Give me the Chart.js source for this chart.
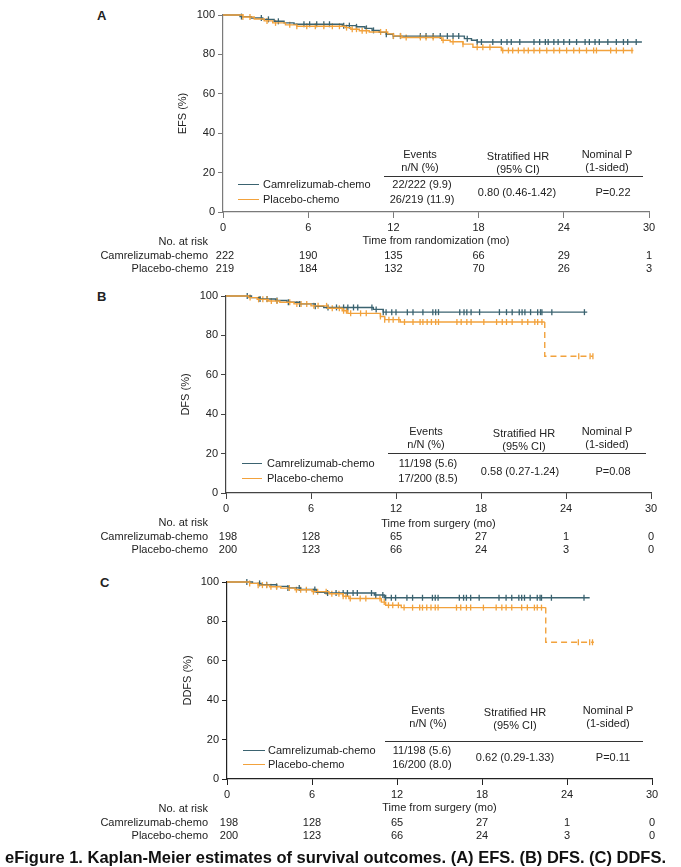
<!DOCTYPE html>
<html>
<head>
<meta charset="utf-8">
<script src="https://cdn.jsdelivr.net/npm/chart.js@4.4.0/dist/chart.umd.min.js"></script>
<style>
  body { margin: 0; background: #fff; width: 681px; height: 867px; position: relative; overflow: hidden;
         font-family: "Liberation Sans", Arial, sans-serif; color: #222; }
  .box { position: absolute; }
  .t { position: absolute; white-space: nowrap; font-size: 11px; line-height: 1; }
  .rule { position: absolute; height: 0; border-top: 1px solid #333; }
</style>
</head>
<body>
<script>
// colours and shared labels
const CAM = "#3b6370";
const PBO = "#f2a23c";
const FONT = "'Liberation Sans', Arial, sans-serif";
const timeTicks = [0, 6, 12, 18, 24, 30];
const survTicks = [0, 20, 40, 60, 80, 100];
const groupNames = ["Camrelizumab-chemo", "Placebo-chemo"];

// ---- Panel A: EFS ----
const efsCamTimes = [0, 1.2, 2.0, 2.8, 3.6, 4.3, 5.0, 8.4, 9.4, 10.0, 10.5, 11.0, 11.5, 12.0, 17.0, 17.5, 17.9, 29.5];
const efsCamSurv  = [100, 99.2, 98.5, 97.8, 96.8, 96.0, 95.3, 94.6, 94.0, 93.2, 92.2, 91.2, 90.2, 89.3, 88.0, 87.2, 86.3, 86.3];
const efsPboTimes = [0, 1.4, 2.2, 2.9, 3.5, 4.4, 5.2, 8.6, 9.0, 9.6, 10.3, 11.6, 12.0, 12.6, 15.4, 16.0, 16.9, 17.6, 19.6, 28.9];
const efsPboSurv  = [100, 99.0, 98.0, 97.0, 96.0, 95.0, 94.3, 93.6, 92.8, 92.0, 91.4, 90.4, 89.4, 88.6, 87.2, 86.4, 85.2, 83.6, 82.0, 82.0];
const efsCamCensor = [1.3, 2.7, 3.2, 3.9, 5.7, 6.1, 6.6, 7.1, 7.5, 8.5, 8.9, 9.4, 10.1, 10.6, 11.5, 12.0, 12.5,
  13.9, 14.3, 14.8, 15.3, 15.8, 16.2, 16.6, 17.2, 17.9, 18.2, 19.0, 19.6, 20.0, 20.3, 20.9, 21.9, 22.3, 22.7,
  22.9, 23.3, 23.6, 24.0, 24.4, 24.9, 25.5, 25.8, 26.2, 26.5, 27.1, 27.7, 28.2, 28.5, 29.1];
const efsPboCensor = [1.4, 1.9, 3.1, 3.7, 4.7, 5.2, 5.9, 6.5, 7.1, 7.7, 8.2, 8.7, 9.1, 9.4, 9.8, 10.1, 11.1, 11.5,
  12.0, 12.5, 12.9, 13.9, 14.3, 14.8, 15.5, 16.2, 16.9, 17.9, 18.3, 18.8, 19.7, 20.1, 20.4, 20.8, 21.2, 21.5,
  21.9, 22.3, 22.8, 23.3, 23.7, 24.2, 24.7, 25.1, 25.6, 26.1, 26.3, 27.3, 27.7, 28.2, 28.8];
const efsRiskCam = [222, 190, 135, 66, 29, 1];
const efsRiskPbo = [219, 184, 132, 70, 26, 3];
const efsEvents = ["22/222 (9.9)", "26/219 (11.9)"];
const efsHR = "0.80 (0.46-1.42)";
const efsP = "P=0.22";

// ---- Panel B: DFS ----
const dfsCamTimes = [0, 1.8, 2.4, 3.5, 4.3, 5.2, 6.3, 6.9, 10.4, 11.1, 25.5];
const dfsCamSurv  = [100, 99.2, 98.5, 97.7, 96.8, 96.0, 94.8, 94.2, 93.2, 91.8, 91.8];
const dfsPboTimes = [0, 1.6, 2.2, 3.0, 3.8, 4.8, 6.0, 7.2, 8.2, 8.6, 10.9, 11.2, 12.3, 22.5, 22.5, 25.9];
const dfsPboSurv  = [100, 99.2, 98.3, 97.5, 96.8, 96.0, 95.0, 93.8, 92.5, 91.2, 89.6, 88.0, 86.8, 86.8, 69.4, 69.4];
const dfsCamCensor = [1.5, 2.4, 2.9, 3.6, 4.4, 5.2, 6.3, 7.2, 7.8, 8.3, 8.6, 9.0, 9.3, 10.3, 10.6, 11.1, 11.3, 11.7,
  12.0, 12.8, 13.2, 13.9, 14.6, 14.8, 15.0, 16.5, 16.8, 17.0, 17.3, 17.9, 19.3, 19.8, 20.2, 20.7, 20.9, 21.1,
  21.5, 22.0, 22.2, 22.3, 23.0, 25.3];
const dfsPboCensor = [1.7, 2.3, 2.6, 2.9, 3.2, 3.6, 4.5, 5.0, 5.3, 5.7, 6.2, 6.5, 7.1, 7.5, 8.0, 8.3, 8.5, 8.8, 9.5,
  9.9, 10.9, 11.2, 11.5, 11.8, 12.2, 12.6, 13.2, 13.7, 13.9, 14.2, 14.5, 14.8, 15.0, 16.3, 16.6, 17.0, 17.3,
  18.2, 19.1, 19.5, 19.8, 20.2, 20.9, 21.3, 21.8, 22.0, 22.3, 24.9, 25.7, 25.9];
const dfsRiskCam = [198, 128, 65, 27, 1, 0];
const dfsRiskPbo = [200, 123, 66, 24, 3, 0];
const dfsEvents = ["11/198 (5.6)", "17/200 (8.5)"];
const dfsHR = "0.58 (0.27-1.24)";
const dfsP = "P=0.08";

// ---- Panel C: DDFS ----
const ddfsCamTimes = [0, 1.8, 2.4, 3.5, 4.3, 5.2, 6.3, 6.9, 10.4, 11.1, 25.6];
const ddfsCamSurv  = [100, 99.3, 98.6, 97.8, 97.0, 96.2, 94.8, 94.4, 93.4, 92.0, 92.0];
const ddfsPboTimes = [0, 1.6, 2.2, 3.0, 3.8, 4.8, 6.0, 7.2, 8.2, 8.6, 10.9, 11.2, 12.3, 22.5, 22.5, 25.9];
const ddfsPboSurv  = [100, 99.3, 98.4, 97.6, 96.9, 96.1, 95.1, 94.0, 92.8, 91.6, 89.8, 88.2, 87.0, 87.0, 69.4, 69.4];
const ddfsCamCensor = [1.4, 2.3, 2.8, 3.5, 4.3, 5.1, 6.2, 7.1, 7.7, 8.2, 8.5, 8.9, 9.2, 10.2, 10.5, 11.0, 11.2, 11.6,
  11.9, 12.7, 13.1, 13.8, 14.5, 14.7, 14.9, 16.4, 16.7, 16.9, 17.2, 17.8, 19.2, 19.7, 20.1, 20.6, 20.8, 21.0,
  21.4, 21.9, 22.1, 22.2, 22.9, 25.2];
const ddfsPboCensor = [1.6, 2.2, 2.5, 2.8, 3.1, 3.5, 4.4, 4.9, 5.2, 5.6, 6.1, 6.4, 7.0, 7.4, 7.9, 8.2, 8.4, 8.7, 9.4,
  9.8, 10.8, 11.1, 11.4, 11.7, 12.1, 12.5, 13.1, 13.6, 13.8, 14.1, 14.4, 14.7, 14.9, 16.2, 16.5, 16.9, 17.2,
  18.1, 19.0, 19.4, 19.7, 20.1, 20.8, 21.2, 21.7, 21.9, 22.2, 24.8, 25.6, 25.8];
const ddfsRiskCam = [198, 128, 65, 27, 1, 0];
const ddfsRiskPbo = [200, 123, 66, 24, 3, 0];
const ddfsEvents = ["11/198 (5.6)", "16/200 (8.0)"];
const ddfsHR = "0.62 (0.29-1.33)";
const ddfsP = "P=0.11";

const caption = "eFigure 1. Kaplan-Meier estimates of survival outcomes. (A) EFS. (B) DFS. (C) DDFS.";

// helper: place a text element; ax: 0 left, 0.5 centre, 1 right
function txt(x, y, s, ax, extra) {
    const d = document.createElement("div");
    d.className = "t";
    d.textContent = s;
    d.style.left = x + "px";
    d.style.top = y + "px";
    d.style.transform = `translate(${-ax * 100}%, -50%)`;
    if (extra) Object.assign(d.style, extra);
    document.body.appendChild(d);
    return d;
}

function hline(x1, x2, y, color, width) {
    const d = document.createElement("div");
    d.className = "rule";
    d.style.left = x1 + "px";
    d.style.top = y + "px";
    d.style.width = (x2 - x1) + "px";
    d.style.borderTop = `${width || 1}px solid ${color || "#333"}`;
    document.body.appendChild(d);
}

function toPoints(times, surv) {
    return times.map((t, i) => ({ x: t, y: surv[i] }));
}

// survival value of a step curve at time t (used to sit censor marks on the curve)
function survAt(times, surv, t) {
    let s = surv[0];
    for (let i = 0; i < times.length; i++) {
        if (times[i] <= t) s = surv[i];
    }
    return s;
}

function censorPoints(cens, times, surv) {
    return cens.map(t => ({ x: t, y: survAt(times, surv, t) }));
}

function makePanel(p) {
    // p.x0/x30: pixel of t=0 / t=30, p.y100/y0: pixel of 100 / 0
    const L = p.left, T = p.y100 - 10;
    const yw = p.x0 - L;
    const xh = p.xh;
    const W = p.x30 + 20 - L;
    const H = p.y0 + xh - T;

    const box = document.createElement("div");
    box.className = "box";
    box.style.left = L + "px";
    box.style.top = T + "px";
    box.style.width = W + "px";
    box.style.height = H + "px";
    const canvas = document.createElement("canvas");
    canvas.style.width = W + "px";
    canvas.style.height = H + "px";
    box.appendChild(canvas);
    document.body.appendChild(box);

    const lastSolid = p.dashFrom == null ? 1e9 : p.dashFrom;
    const axisFont = { family: FONT, size: 11 };

    new Chart(canvas, {
        type: "line",
        data: {
            datasets: [
                {
                    data: toPoints(p.pboT, p.pboS), borderColor: PBO, borderWidth: 1.4,
                    stepped: true, pointRadius: 0, fill: false, clip: false,
                    segment: { borderDash: c => c.p0DataIndex >= lastSolid ? [6, 4] : undefined }
                },
                {
                    data: toPoints(p.camT, p.camS), borderColor: CAM, borderWidth: 1.4,
                    stepped: true, pointRadius: 0, fill: false, clip: false
                },
                {
                    data: censorPoints(p.pboC, p.pboT, p.pboS), showLine: false, clip: false,
                    pointStyle: "line", rotation: 90, pointRadius: 3, pointBorderWidth: 1.3,
                    borderColor: PBO, backgroundColor: PBO
                },
                {
                    data: censorPoints(p.camC, p.camT, p.camS), showLine: false, clip: false,
                    pointStyle: "line", rotation: 90, pointRadius: 3, pointBorderWidth: 1.3,
                    borderColor: CAM, backgroundColor: CAM
                }
            ]
        },
        options: {
            responsive: false,
            animation: false,
            events: [],
            layout: { padding: { left: 0, right: 20, top: 10, bottom: 0 } },
            plugins: { legend: { display: false }, tooltip: { enabled: false } },
            scales: {
                x: {
                    type: "linear", min: 0, max: 30,
                    afterBuildTicks: s => { s.ticks = timeTicks.map(v => ({ value: v })); },
                    afterFit: s => { s.height = xh; },
                    grid: { display: true, drawOnChartArea: false, drawTicks: true, tickLength: 6,
                            color: p.axisColor, tickColor: p.axisColor },
                    border: { display: true, color: p.axisColor, width: 1.2 },
                    ticks: { padding: 3, color: "#222", font: axisFont, maxRotation: 0, autoSkip: false },
                    title: { display: true, text: p.xTitle, color: "#222", font: axisFont,
                             padding: { top: 0, bottom: 0 } }
                },
                y: {
                    type: "linear", min: 0, max: 100,
                    afterBuildTicks: s => { s.ticks = survTicks.map(v => ({ value: v })); },
                    afterFit: s => { s.width = yw; },
                    grid: { display: true, drawOnChartArea: false, drawTicks: true, tickLength: 5,
                            color: p.axisColor, tickColor: p.axisColor },
                    border: { display: true, color: p.axisColor, width: 1.2 },
                    ticks: { padding: 3, color: "#222", font: axisFont },
                    title: { display: true, text: p.yTitle, color: "#222", font: axisFont,
                             padding: { top: p.yTitlePad, bottom: 0 } }
                }
            }
        }
    });

    // panel letter
    txt(p.letterX, p.y100, p.letter, 0, { fontWeight: "bold", fontSize: "13px" });

    // legend inside the plot
    const lg = p.legend;
    hline(lg.x1, lg.x2, lg.y1, CAM, 1);
    hline(lg.x1, lg.x2, lg.y2, PBO, 1);
    txt(lg.tx, lg.y1, groupNames[0], 0);
    txt(lg.tx, lg.y2, groupNames[1], 0);

    // summary table
    const tb = p.table;
    txt(tb.evX, tb.hy1, "Events", 0.5);
    txt(tb.evX, tb.hy2, "n/N (%)", 0.5);
    txt(tb.hrX, tb.hy1 + 2, "Stratified HR", 0.5);
    txt(tb.hrX, tb.hy2 + 2, "(95% CI)", 0.5);
    txt(tb.pX, tb.hy1, "Nominal P", 0.5);
    txt(tb.pX, tb.hy2, "(1-sided)", 0.5);
    hline(tb.r1, tb.r2, tb.ry, "#333", 1);
    txt(tb.evVX, lg.y1, p.events[0], 0.5);
    txt(tb.evVX, lg.y2, p.events[1], 0.5);
    txt(tb.hrVX, (lg.y1 + lg.y2) / 2, p.hr, 0.5);
    txt(tb.pVX, (lg.y1 + lg.y2) / 2, p.pval, 0.5);

    // number at risk
    const ry0 = p.y0 + 29;
    txt(208, ry0, "No. at risk", 1);
    txt(208, ry0 + 14, groupNames[0], 1);
    txt(208, ry0 + 27, groupNames[1], 1);
    timeTicks.forEach((tk, i) => {
        const px = p.x0 + (p.x30 - p.x0) * tk / 30 + (i === 0 ? 2 : 0);
        txt(px, ry0 + 14, String(p.riskCam[i]), 0.5);
        txt(px, ry0 + 27, String(p.riskPbo[i]), 0.5);
    });
}

makePanel({
    letter: "A", letterX: 97, left: 172, x0: 223, x30: 649, y100: 15, y0: 212, xh: 36, yTitlePad: 4,
    axisColor: "#7a7a7a", xTitle: "Time from randomization (mo)", yTitle: "EFS (%)",
    camT: efsCamTimes, camS: efsCamSurv, pboT: efsPboTimes, pboS: efsPboSurv,
    camC: efsCamCensor, pboC: efsPboCensor, dashFrom: null,
    riskCam: efsRiskCam, riskPbo: efsRiskPbo, events: efsEvents, hr: efsHR, pval: efsP,
    legend: { x1: 238, x2: 259, tx: 263, y1: 184, y2: 199 },
    table: { evX: 420, hrX: 518, pX: 607, hy1: 154, hy2: 167, r1: 384, r2: 643, ry: 176,
             evVX: 422, hrVX: 517, pVX: 613 }
});

makePanel({
    letter: "B", letterX: 97, left: 175, x0: 226, x30: 651, y100: 296, y0: 493, xh: 38, yTitlePad: 4,
    axisColor: "#444", xTitle: "Time from surgery (mo)", yTitle: "DFS (%)",
    camT: dfsCamTimes, camS: dfsCamSurv, pboT: dfsPboTimes, pboS: dfsPboSurv,
    camC: dfsCamCensor, pboC: dfsPboCensor, dashFrom: 13,
    riskCam: dfsRiskCam, riskPbo: dfsRiskPbo, events: dfsEvents, hr: dfsHR, pval: dfsP,
    legend: { x1: 242, x2: 262, tx: 267, y1: 463, y2: 478 },
    table: { evX: 426, hrX: 524, pX: 607, hy1: 431, hy2: 444, r1: 388, r2: 646, ry: 453,
             evVX: 428, hrVX: 520, pVX: 613 }
});

makePanel({
    letter: "C", letterX: 100, left: 176, x0: 227, x30: 652, y100: 582, y0: 779, xh: 36, yTitlePad: 5,
    axisColor: "#222", xTitle: "Time from surgery (mo)", yTitle: "DDFS (%)",
    camT: ddfsCamTimes, camS: ddfsCamSurv, pboT: ddfsPboTimes, pboS: ddfsPboSurv,
    camC: ddfsCamCensor, pboC: ddfsPboCensor, dashFrom: 13,
    riskCam: ddfsRiskCam, riskPbo: ddfsRiskPbo, events: ddfsEvents, hr: ddfsHR, pval: ddfsP,
    legend: { x1: 243, x2: 265, tx: 268, y1: 750, y2: 764 },
    table: { evX: 428, hrX: 515, pX: 608, hy1: 710, hy2: 723, r1: 385, r2: 643, ry: 741,
             evVX: 422, hrVX: 515, pVX: 613 }
});

txt(5, 857, caption, 0, { fontWeight: "bold", fontSize: "16.5px", color: "#111" });
</script>
</body>
</html>
